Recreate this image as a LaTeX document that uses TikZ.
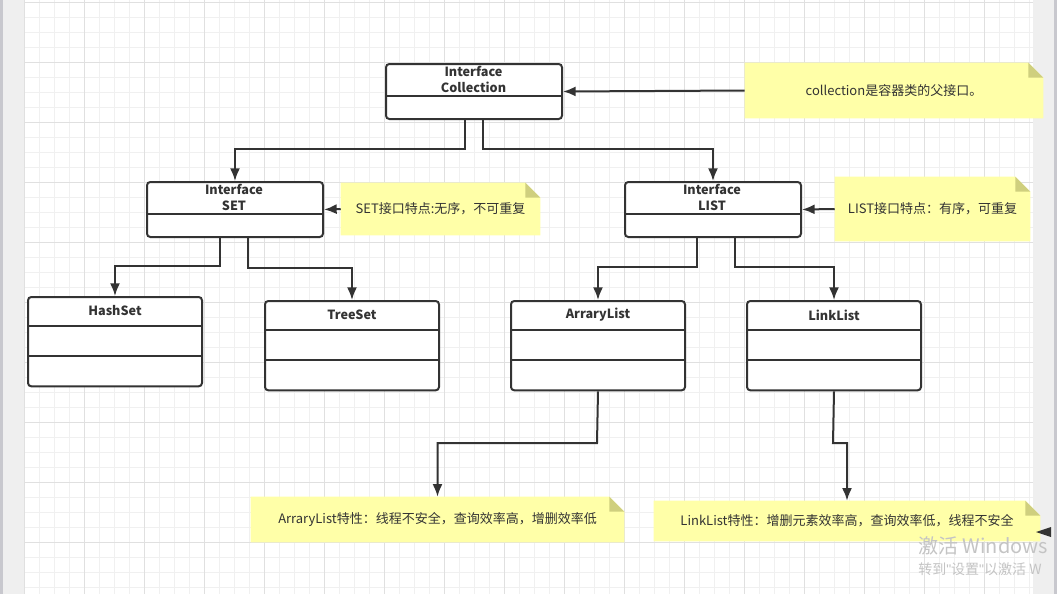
\documentclass[tikz,border=0pt]{standalone}
\usepackage{fontspec}
\setmainfont{Noto Sans CJK SC}
\newfontfamily\latinq{Liberation Sans}
\usetikzlibrary{arrows.meta,calc,positioning}
\pgfdeclarelayer{grid}
\pgfdeclarelayer{background}
\pgfsetlayers{grid,background,main}
\definecolor{linegray}{HTML}{333333}
\definecolor{noteyellow}{HTML}{FFFFA8}
\definecolor{notefold}{HTML}{CFCF7E}
\definecolor{gridminor}{HTML}{F0F0F0}
\definecolor{gridmajor}{HTML}{E0E0E0}
\definecolor{sidegray}{HTML}{EFEFEF}
\definecolor{sidedark}{HTML}{C8C8CE}
\definecolor{wmgray}{HTML}{C4C4C4}
\tikzset{
  line/.style={draw=linegray,line width=1.5pt},
  conn/.style={line,-{Latex[length=9.5pt,width=7.5pt]}},
  ibox/.style={line,fill=white,rounded corners=2.5pt,minimum width=132pt,minimum height=41.25pt,anchor=north west,inner sep=0pt},
  cbox/.style={line,fill=white,rounded corners=2.5pt,minimum width=130.5pt,minimum height=67pt,anchor=north west,inner sep=0pt},
  boxtitle/.style={font=\bfseries\fontsize{9.5}{12}\selectfont,text=linegray,align=center,inner sep=0pt},
  note/.style={inner sep=0pt,font=\fontsize{9.75}{12}\selectfont,text=linegray,align=center},
}
\begin{document}
\begin{tikzpicture}[x=0.75pt,y=-0.75pt]
\useasboundingbox (0,0) rectangle (1057,594);
% grid paper
\begin{pgfonlayer}{grid}
\fill[white] (0,0) rectangle (1057,594);
\foreach \x in {24,39,...,1033} \draw[gridminor,line width=0.75pt] (\x,0) -- (\x,594);
\foreach \y in {2,17,...,594} \draw[gridminor,line width=0.75pt] (24,\y) -- (1033,\y);
\foreach \x in {24,84,...,1033} \draw[gridmajor,line width=0.75pt] (\x,0) -- (\x,594);
\foreach \y in {2,62,...,594} \draw[gridmajor,line width=0.75pt] (24,\y) -- (1033,\y);
\fill[sidedark] (0,0) rectangle (3,594);
\fill[sidegray] (3,0) rectangle (24,594);
\fill[sidegray] (1033,0) rectangle (1054,594);
\fill[sidedark] (1054,0) rectangle (1057,594);
\end{pgfonlayer}
% interfaces
\node[ibox] (coll) at (385,63) {};
\node[boxtitle] at (473.5,79.5) {Interface\\Collection};
\draw[line] (coll.west |- 0,96) -- (coll.east |- 0,96);
\node[ibox] (set) at (146,181) {};
\node[boxtitle] at (234,197.5) {Interface\\SET};
\draw[line] (set.west |- 0,214) -- (set.east |- 0,214);
\node[ibox] (list) at (624,181) {};
\node[boxtitle] at (712,197.5) {Interface\\LIST};
\draw[line] (list.west |- 0,214) -- (list.east |- 0,214);
% classes
\foreach \n/\t/\x/\y in {hashset/HashSet/27/296,treeset/TreeSet/264/300,arrlist/ArraryList/510/300,linklist/LinkList/746/300}{
  \node[cbox] (\n) at (\x,\y) {};
  \node[boxtitle] at ($(\n.north)+(0,15)$) {\t};
  \draw[line] ($(\n.north west)+(0,30)$) -- ($(\n.north east)+(0,30)$);
  \draw[line] ($(\n.north west)+(0,60)$) -- ($(\n.north east)+(0,60)$);
}
% notes
\node[note,minimum width=223.5pt,minimum height=41.25pt] (collnote) at (894,90.5) {collection是容器类的父接口。};
\node[note,minimum width=149.25pt,minimum height=39pt] (setnote) at (440.5,209) {SET接口特点:无序，不可重复};
\node[note,minimum width=146.25pt,minimum height=48pt] (listnote) at (932.5,209) {LIST接口特点：有序，可重复};
\node[note,minimum width=279.75pt,minimum height=33.75pt] (arrnote) at (437.5,519.5) {ArraryList特性：线程不安全，查询效率高，增删效率低};
\node[note,minimum width=289.5pt,minimum height=30pt] (linknote) at (847,521) {LinkList特性：增删元素效率高，查询效率低，线程不安全};
\begin{pgfonlayer}{background}
\foreach \n in {collnote,setnote,listnote,arrnote,linknote}{
  \fill[noteyellow] (\n.north west) -- ([xshift=-11.25pt]\n.north east) -- ([yshift=-11.25pt]\n.north east) -- (\n.south east) -- (\n.south west) -- cycle;
  \fill[notefold] ([xshift=-11.25pt]\n.north east) -- ([xshift=-11.25pt,yshift=-11.25pt]\n.north east) -- ([yshift=-11.25pt]\n.north east) -- cycle;
}
\end{pgfonlayer}
% connectors
\draw[conn] (collnote.west) -- (coll.east);
\draw[conn] (setnote.west) -- (set.east);
\draw[conn] (listnote.west) -- (list.east);
\draw[conn] (coll.south -| 465,0) -- (465,149) -| (set.north);
\draw[conn] (coll.south -| 483,0) -- (483,149) -| (list.north);
\draw[conn] (set.south -| 220,0) -- (220,266) -| (hashset.north);
\draw[conn] (set.south -| 248,0) -- (248,268) -| (treeset.north);
\draw[conn] (list.south -| 697,0) -- (697,267) -| (arrlist.north);
\draw[conn] (list.south -| 735,0) -- (735,267) -| (linklist.north);
\draw[conn] (arrlist.south) -- (597,443) -| (arrnote.north);
\draw[conn] (linklist.south) -- (833,443) -| (linknote.north);
\fill[linegray] (1036,532) -- (1051,527) -- (1051,537) -- cycle;
% watermark
\node[anchor=base west,inner sep=0pt,text=wmgray,font=\fontsize{15}{16}\selectfont] (wm1) at (918,553) {激活 Windows};
\node[anchor=base west,inner sep=0pt,text=wmgray,font=\fontsize{10.5}{11}\selectfont] (wm2) at (918,574) {转到{\latinq"}设置{\latinq"}以激活 W};
\end{tikzpicture}
\end{document}
